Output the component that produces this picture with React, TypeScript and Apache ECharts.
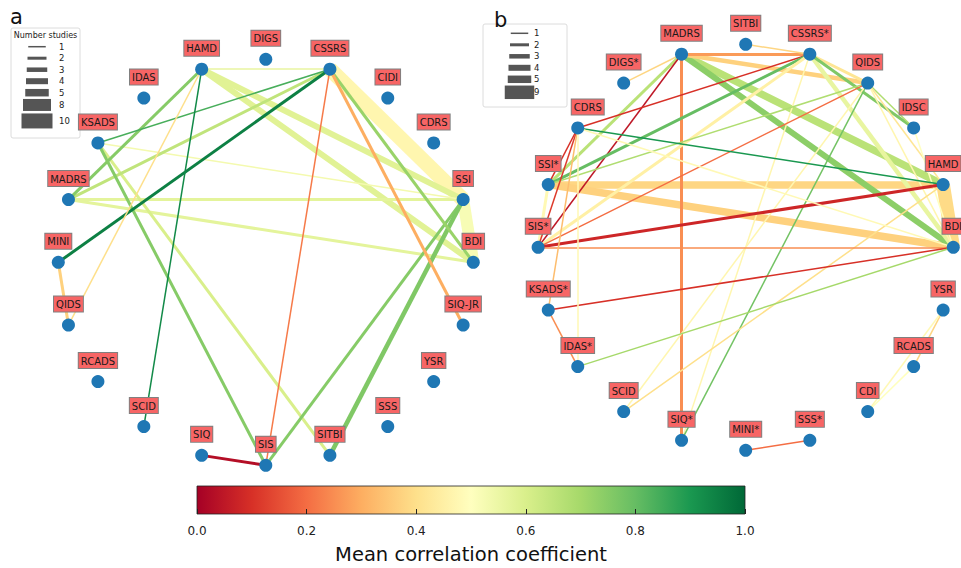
import React, { useEffect, useRef } from 'react';
import * as echarts from 'echarts';

// ---------- data ----------
// node order around each circle (counter-clockwise, starting at the right-hand side)
const leftNodes = ['BDI', 'SSI', 'CDRS', 'CIDI', 'CSSRS', 'DIGS', 'HAMD', 'IDAS', 'KSADS', 'MADRS', 'MINI', 'QIDS', 'RCADS', 'SCID', 'SIQ', 'SIS', 'SITBI', 'SSS', 'YSR', 'SIQ-JR'];
const rightNodes = ['BDI', 'HAMD', 'IDSC', 'QIDS', 'CSSRS*', 'SITBI', 'MADRS', 'DIGS*', 'CDRS', 'SSI*', 'SIS*', 'KSADS*', 'IDAS*', 'SCID', 'SIQ*', 'MINI*', 'SSS*', 'CDI', 'RCADS', 'YSR'];

// [source, target, mean correlation, number of studies]
const leftLinks: [string, string, number, number][] = [
  ['CSSRS', 'SSI', 0.47, 10],
  ['SSI', 'BDI', 0.52, 8],
  ['HAMD', 'SSI', 0.58, 4],
  ['HAMD', 'BDI', 0.58, 4],
  ['MADRS', 'SSI', 0.57, 2],
  ['MADRS', 'BDI', 0.57, 2],
  ['KSADS', 'SSI', 0.53, 1],
  ['HAMD', 'CSSRS', 0.56, 1],
  ['KSADS', 'SITBI', 0.6, 2],
  ['CSSRS', 'MADRS', 0.65, 2],
  ['HAMD', 'MADRS', 0.75, 2],
  ['KSADS', 'SIS', 0.75, 2],
  ['SIS', 'SSI', 0.75, 2],
  ['SITBI', 'SSI', 0.76, 3],
  ['CSSRS', 'BDI', 0.72, 2],
  ['CSSRS', 'KSADS', 0.84, 1],
  ['CSSRS', 'MINI', 0.95, 2],
  ['HAMD', 'SCID', 0.93, 1],
  ['HAMD', 'QIDS', 0.4, 1],
  ['MINI', 'QIDS', 0.37, 2],
  ['CSSRS', 'SIQ-JR', 0.3, 2],
  ['CSSRS', 'SIS', 0.22, 1],
  ['SIQ', 'SIS', 0.03, 2],
];

const rightLinks: [string, string, number, number][] = [
  ['HAMD', 'BDI', 0.39, 9],
  ['HAMD', 'SSI*', 0.38, 5],
  ['BDI', 'SSI*', 0.37, 5],
  ['MADRS', 'HAMD', 0.66, 5],
  ['MADRS', 'BDI', 0.74, 4],
  ['MADRS', 'QIDS', 0.37, 3],
  ['CSSRS*', 'BDI', 0.56, 3],
  ['CSSRS*', 'QIDS', 0.42, 2],
  ['MADRS', 'CSSRS*', 0.27, 2],
  ['MADRS', 'SIQ*', 0.25, 2],
  ['MADRS', 'DIGS*', 0.38, 1],
  ['MADRS', 'SSI*', 0.66, 2],
  ['MADRS', 'SIS*', 0.05, 1],
  ['CSSRS*', 'SITBI', 0.38, 1],
  ['CSSRS*', 'CDRS', 0.1, 1],
  ['CSSRS*', 'SSI*', 0.8, 2],
  ['CSSRS*', 'SIS*', 0.45, 2],
  ['CSSRS*', 'IDSC', 0.76, 2],
  ['CSSRS*', 'SIQ*', 0.47, 1],
  ['QIDS', 'SSI*', 0.68, 1],
  ['QIDS', 'SIS*', 0.2, 1],
  ['QIDS', 'SIQ*', 0.78, 1],
  ['QIDS', 'IDSC', 0.68, 1],
  ['QIDS', 'HAMD', 0.42, 1],
  ['QIDS', 'BDI', 0.47, 1],
  ['QIDS', 'SCID', 0.47, 1],
  ['IDSC', 'BDI', 0.5, 1],
  ['HAMD', 'CDRS', 0.9, 1],
  ['HAMD', 'SIS*', 0.08, 2],
  ['HAMD', 'SCID', 0.4, 1],
  ['BDI', 'SIS*', 0.25, 1],
  ['BDI', 'KSADS*', 0.1, 1],
  ['BDI', 'IDAS*', 0.7, 1],
  ['BDI', 'CDRS', 0.48, 1],
  ['SSI*', 'CDRS', 0.1, 1],
  ['SSI*', 'SIS*', 0.48, 2],
  ['SIS*', 'CDRS', 0.12, 1],
  ['CDRS', 'KSADS*', 0.33, 1],
  ['CDRS', 'IDAS*', 0.48, 1],
  ['KSADS*', 'IDAS*', 0.25, 1],
  ['YSR', 'RCADS', 0.38, 1],
  ['YSR', 'CDI', 0.48, 1],
  ['RCADS', 'CDI', 0.5, 1],
  ['MINI*', 'SSS*', 0.2, 1],
];

const leftLegendStudies = [1, 2, 3, 4, 5, 8, 10];
const rightLegendStudies = [1, 2, 3, 4, 5, 9];
const colorbarRange = [0, 1];
const colorbarTitle = 'Mean correlation coefficient';
const legendTitle = 'Number studies';
const panelLetters = ['a', 'b'];

// ---------- style helpers ----------
const RDYLGN = ['#a50026', '#d73027', '#f46d43', '#fdae61', '#fee08b', '#ffffbf', '#d9ef8b', '#a6d96a', '#66bd63', '#1a9850', '#006837'];
const hexToRgb = (h: string) => [parseInt(h.slice(1, 3), 16), parseInt(h.slice(3, 5), 16), parseInt(h.slice(5, 7), 16)];
function rdylgn(t: number): string {
  const c = Math.max(0, Math.min(1, t)) * (RDYLGN.length - 1);
  const i = Math.min(Math.floor(c), RDYLGN.length - 2);
  const f = c - i;
  const a = hexToRgb(RDYLGN[i]);
  const b = hexToRgb(RDYLGN[i + 1]);
  const m = a.map((v, k) => Math.round(v + (b[k] - v) * f));
  return `rgb(${m[0]},${m[1]},${m[2]})`;
}
const widthOf = (n: number) => 1.5 * n;
const FONT = 'DejaVu Sans';
// small label nudges (label boxes moved sideways to clear the legend)
const rightLabelNudge: Record<string, [number, number]> = { CDRS: [10, 0] };

function graphSeries(nodes: string[], links: [string, string, number, number][], idx: number, nudge: Record<string, [number, number]> = {}) {
  const n = nodes.length;
  return {
    type: 'graph',
    layout: 'none',
    coordinateSystem: 'cartesian2d',
    xAxisIndex: idx,
    yAxisIndex: idx,
    symbol: 'circle',
    symbolSize: 13,
    silent: true,
    itemStyle: { color: '#1f77b4' },
    label: {
      show: true,
      position: 'top',
      distance: 7,
      formatter: '{b}',
      color: '#1a1a1a',
      fontSize: 10,
      fontFamily: FONT,
      backgroundColor: '#f76565',
      borderColor: '#808080',
      borderWidth: 1,
      padding: [2, 2, 1, 2],
      lineHeight: 12,
    },
    data: nodes.map((name, i) => {
      const a = (i * 2 * Math.PI) / n;
      const item: any = { name, value: [Math.cos(a), Math.sin(a)] };
      if (nudge[name]) item.label = { offset: nudge[name] };
      return item;
    }),
    links: links.map(([s, t, r, k]) => ({
      source: s,
      target: t,
      lineStyle: { color: rdylgn(r), width: widthOf(k), opacity: 1, curveness: 0 },
    })),
    emphasis: { disabled: true },
    z: 2,
  };
}

function legendGraphic(studies: number[], box: { x: number; y: number; w: number; h: number }, cx: number, labelX: number, firstY: number, title?: string) {
  const els: any[] = [
    { type: 'rect', shape: { x: box.x, y: box.y, width: box.w, height: box.h, r: 2 }, style: { fill: '#fff', stroke: '#dcdcdc', lineWidth: 1 }, z: 0 },
  ];
  if (title) {
    els.push({ type: 'text', x: box.x + box.w / 2, y: box.y + 7, style: { text: title, fontSize: 8, fontFamily: FONT, fill: '#222', align: 'center', verticalAlign: 'middle' }, z: 1 });
  }
  let y = firstY;
  let prevH = 0;
  studies.forEach((s, i) => {
    const h = widthOf(s);
    if (i > 0) y += Math.max(11.5, (prevH + h) / 2 + 2.5);
    const w = 16 + 1.5 * s;
    els.push({ type: 'rect', shape: { x: cx - w / 2, y: y - h / 2, width: w, height: h }, style: { fill: '#555' }, z: 1 });
    els.push({ type: 'text', x: labelX, y, style: { text: String(s), fontSize: 8.5, fontFamily: FONT, fill: '#222', align: 'left', verticalAlign: 'middle' }, z: 1 });
    prevH = h;
  });
  return els;
}

export default function App() {
  const ref = useRef<HTMLDivElement>(null);
  useEffect(() => {
    if (!ref.current) return;
    const chart = echarts.init(ref.current, undefined, { renderer: 'svg' });
    const gradient = new echarts.graphic.LinearGradient(0, 0, 1, 0, RDYLGN.map((c, i) => ({ offset: i / (RDYLGN.length - 1), color: c })));
    const hiddenAxis = (gridIndex: number) => ({ gridIndex, type: 'value', min: -1, max: 1, show: false });
    const option: any = {
      animation: false,
      backgroundColor: '#fff',
      grid: [
        { left: 58.3, top: 59.3, width: 415, height: 406 },
        { left: 538.1, top: 44.3, width: 415.2, height: 406 },
        { left: 197, top: 486, width: 548, height: 28 },
      ],
      xAxis: [
        hiddenAxis(0),
        hiddenAxis(1),
        {
          gridIndex: 2,
          type: 'value',
          min: colorbarRange[0],
          max: colorbarRange[1],
          interval: 0.2,
          position: 'bottom',
          z: 5,
          axisLine: { show: false },
          splitLine: { show: false },
          axisTick: { show: true, inside: true, length: 5, lineStyle: { color: '#222', width: 1 } },
          axisLabel: { margin: 11, fontSize: 12, color: '#222', fontFamily: FONT, formatter: (v: number) => v.toFixed(1) },
          name: colorbarTitle,
          nameLocation: 'middle',
          nameGap: 30,
          nameTextStyle: { fontSize: 19.5, fontFamily: FONT, color: '#111' },
        },
      ],
      yAxis: [hiddenAxis(0), hiddenAxis(1), { gridIndex: 2, type: 'value', min: 0, max: 1, show: false }],
      series: [
        graphSeries(leftNodes, leftLinks, 0),
        graphSeries(rightNodes, rightLinks, 1, rightLabelNudge),
        {
          type: 'custom',
          xAxisIndex: 2,
          yAxisIndex: 2,
          silent: true,
          data: [[colorbarRange[0], colorbarRange[1]]],
          renderItem: (params: any, api: any) => {
            const p0 = api.coord([api.value(0), 1]);
            const p1 = api.coord([api.value(1), 0]);
            return {
              type: 'rect',
              shape: { x: p0[0], y: p0[1], width: p1[0] - p0[0], height: p1[1] - p0[1] },
              style: { fill: gradient, stroke: '#222', lineWidth: 0.8 },
            };
          },
        },
      ],
      graphic: [
        ...legendGraphic(leftLegendStudies, { x: 11, y: 28, w: 69, h: 110 }, 37, 59, 46.7, legendTitle),
        ...legendGraphic(rightLegendStudies, { x: 483, y: 24, w: 84, h: 83 }, 519.5, 534, 33.3),
        { type: 'text', x: 10, y: 17, style: { text: panelLetters[0], fontSize: 21, fontFamily: FONT, fill: '#111', verticalAlign: 'middle' }, z: 12 },
        { type: 'text', x: 494, y: 20, style: { text: panelLetters[1], fontSize: 21, fontFamily: FONT, fill: '#111', verticalAlign: 'middle' }, z: 12 },
      ],
    };
    chart.setOption(option);
    return () => chart.dispose();
  }, []);
  return <div ref={ref} style={{ position: 'fixed', left: 0, top: 0, width: 961, height: 568 }} />;
}
